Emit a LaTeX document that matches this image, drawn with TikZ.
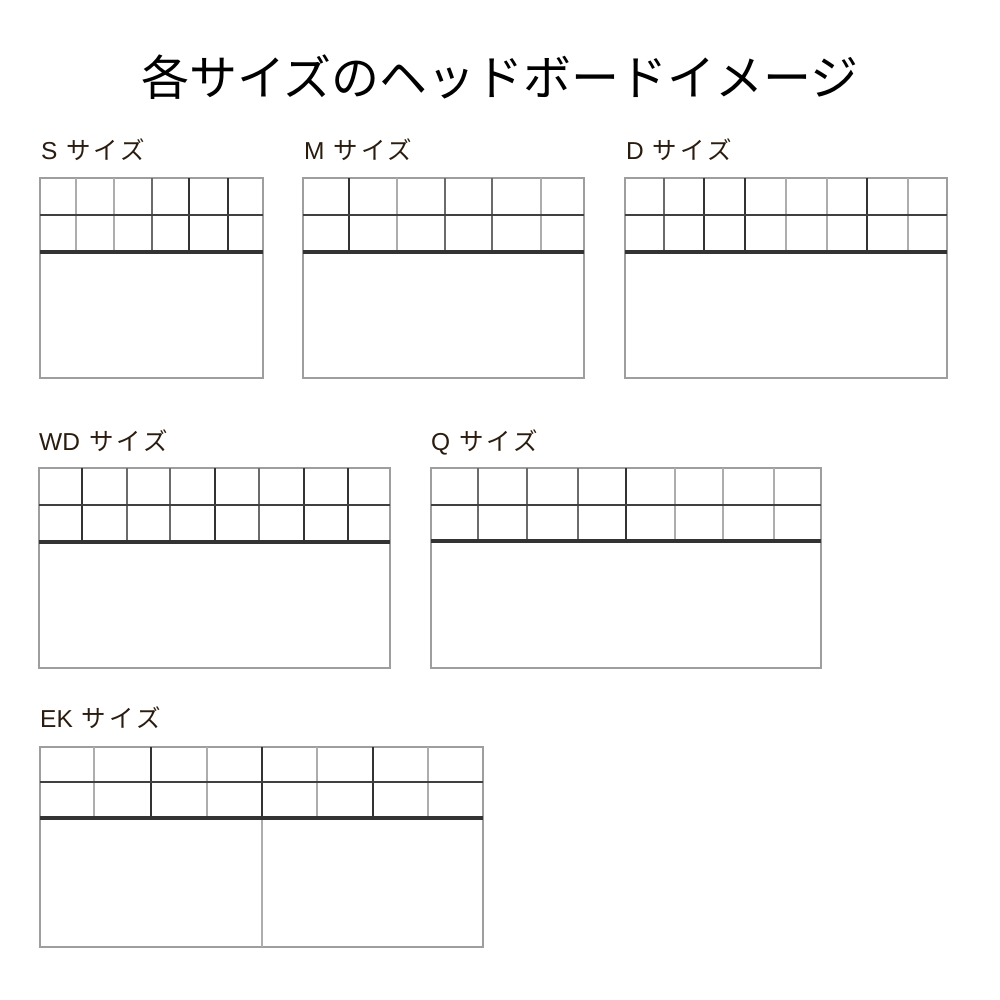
\documentclass[tikz,border=0pt]{standalone}
\usepackage{fontspec}
\setmainfont{Noto Sans CJK JP}
\newfontfamily\titlefont{Noto Sans CJK JP}
\newfontfamily\kanafont[LetterSpace=12]{Noto Sans CJK JP}
\newfontfamily\latfont{Liberation Sans}
\newcommand{\sizelabel}[1]{{\latfont #1}\hspace{9pt}{\kanafont サイズ}}
\begin{document}
\begin{tikzpicture}[x=1pt,y=-1pt,
  frame/.style={draw=black!38,line width=2pt},
  midline/.style={draw=black!75,line width=2pt},
  thickline/.style={draw=black!80,line width=3.2pt},
  vdark/.style={draw=black!80,line width=2pt},
  vmed/.style={draw=black!58,line width=2pt},
  vlight/.style={draw=black!32,line width=2pt},
  lbl/.style={anchor=base west,inner sep=0pt,font=\fontsize{24.5}{25}\selectfont,text=black!78!brown},
  ttl/.style={anchor=center,inner sep=0pt,font=\titlefont\fontsize{48}{48}\selectfont}]
\useasboundingbox[fill=white] (0,0) rectangle (1000,1000);
\node[ttl] (title) at (500,77) {各サイズのヘッドボードイメージ};
% ---------- S ----------
\node[lbl] (lS) at (41,160) {\sizelabel{S}};
\draw[frame] (40,178) rectangle (263,378);
\draw[vlight] (76,178) -- (76,252);
\draw[vlight] (114,178) -- (114,252);
\draw[vmed] (152,178) -- (152,252);
\draw[vdark] (189,178) -- (189,252);
\draw[vdark] (228,178) -- (228,252);
\draw[midline] (40,215) -- (263,215);
\draw[thickline] (40,252) -- (263,252);
% ---------- M ----------
\node[lbl] (lM) at (304,160) {\sizelabel{M}};
\draw[frame] (303,178) rectangle (584,378);
\draw[vdark] (349,178) -- (349,252);
\draw[vlight] (397,178) -- (397,252);
\draw[vmed] (445,178) -- (445,252);
\draw[vmed] (492,178) -- (492,252);
\draw[vlight] (541,178) -- (541,252);
\draw[midline] (303,215) -- (584,215);
\draw[thickline] (303,252) -- (584,252);
% ---------- D ----------
\node[lbl] (lD) at (626,160) {\sizelabel{D}};
\draw[frame] (625,178) rectangle (947,378);
\draw[vmed] (664,178) -- (664,252);
\draw[vdark] (704,178) -- (704,252);
\draw[vdark] (745,178) -- (745,252);
\draw[vlight] (786,178) -- (786,252);
\draw[vlight] (827,178) -- (827,252);
\draw[vdark] (867,178) -- (867,252);
\draw[vlight] (908,178) -- (908,252);
\draw[midline] (625,215) -- (947,215);
\draw[thickline] (625,252) -- (947,252);
% ---------- WD ----------
\node[lbl] (lWD) at (39,450) {\sizelabel{WD}};
\draw[frame] (39,468) rectangle (390,668);
\draw[vdark] (82,468) -- (82,542);
\draw[vmed] (127,468) -- (127,542);
\draw[vmed] (170,468) -- (170,542);
\draw[vdark] (215,468) -- (215,542);
\draw[vmed] (259,468) -- (259,542);
\draw[vdark] (304,468) -- (304,542);
\draw[vdark] (348,468) -- (348,542);
\draw[midline] (39,505) -- (390,505);
\draw[thickline] (39,542) -- (390,542);
% ---------- Q ----------
\node[lbl] (lQ) at (431,450) {\sizelabel{Q}};
\draw[frame] (431,468) rectangle (821,668);
\draw[vmed] (478,468) -- (478,541);
\draw[vmed] (527,468) -- (527,541);
\draw[vmed] (578,468) -- (578,541);
\draw[vdark] (626,468) -- (626,541);
\draw[vlight] (675,468) -- (675,541);
\draw[vlight] (723,468) -- (723,541);
\draw[vlight] (774,468) -- (774,541);
\draw[midline] (431,505) -- (821,505);
\draw[thickline] (431,541) -- (821,541);
% ---------- EK ----------
\node[lbl] (lEK) at (40,727) {\sizelabel{EK}};
\draw[frame] (40,747) rectangle (483,947);
\draw[vlight] (94,747) -- (94,818);
\draw[vdark] (151,747) -- (151,818);
\draw[vlight] (207,747) -- (207,818);
\draw[vdark] (262,747) -- (262,818);
\draw[vlight] (317,747) -- (317,818);
\draw[vdark] (373,747) -- (373,818);
\draw[vlight] (428,747) -- (428,818);
\draw[vlight] (262,818) -- (262,947);
\draw[midline] (40,782) -- (483,782);
\draw[thickline] (40,818) -- (483,818);
\end{tikzpicture}
\end{document}
